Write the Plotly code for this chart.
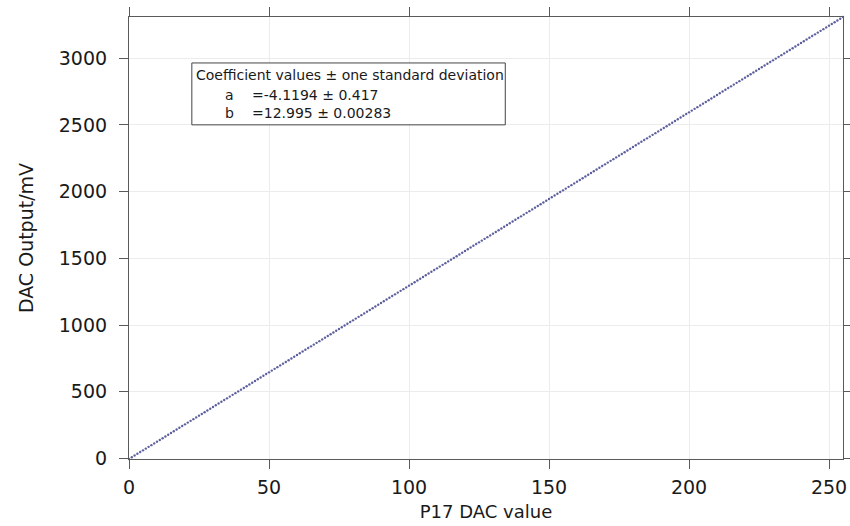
import plotly.graph_objects as go

# Linear fit of P17 DAC output voltage vs. DAC code
coef_a = -4.1194
coef_b = 12.995
coef_a_sd = 0.417
coef_b_sd = 0.00283

dac_codes = list(range(0, 256))
fit_mv = [coef_a + coef_b * c for c in dac_codes]

x_ticks = [0, 50, 100, 150, 200, 250]
y_ticks = [0, 500, 1000, 1500, 2000, 2500, 3000]

FONT = "DejaVu Sans"
INK = "#1a1a1a"

fig = go.Figure()
fig.add_trace(go.Scatter(
    x=dac_codes, y=fit_mv, mode="markers",
    marker=dict(size=2.4, color="#5c5f9c", line=dict(width=0)),
    showlegend=False, cliponaxis=False,
))

axis_common = dict(
    showline=True, linecolor="#5a5a5a", linewidth=1.2, mirror="ticks",
    ticks="outside", ticklen=9, tickwidth=1, tickcolor="#5a5a5a",
    showgrid=True, gridcolor="#ececec", gridwidth=1, zeroline=False,
    tickfont=dict(family=FONT, size=19, color=INK),
    automargin=False,
)

fig.update_xaxes(
    range=[0, 255], tickvals=x_ticks, ticklabelstandoff=2,
    title=dict(text="P17 DAC value", font=dict(family=FONT, size=18, color=INK), standoff=8),
    **axis_common,
)
fig.update_yaxes(
    range=[min(fit_mv), max(fit_mv)], tickvals=y_ticks, ticklabelstandoff=8,
    title=dict(text="DAC Output/mV", font=dict(family=FONT, size=19, color=INK), standoff=20),
    **axis_common,
)

# Coefficient box: frame plus one text row per line
fig.add_shape(
    type="rect", xref="paper", yref="paper",
    x0=0.088, x1=0.527, y0=0.756, y1=0.896,
    line=dict(color="#444444", width=1), fillcolor="white", layer="above",
)
box_font = dict(family=FONT, size=14, color=INK)
fig.add_annotation(
    xref="paper", yref="paper", x=0.091, y=0.869, xanchor="left", yanchor="middle",
    text="Coefficient values ± one standard deviation", showarrow=False, font=box_font,
)
rows = [("a", coef_a, coef_a_sd, 0.824), ("b", coef_b, coef_b_sd, 0.783)]
for name, val, sd, ypos in rows:
    fig.add_annotation(
        xref="paper", yref="paper", x=0.1317, y=ypos, xanchor="left", yanchor="middle",
        text=name, showarrow=False, font=box_font,
    )
    fig.add_annotation(
        xref="paper", yref="paper", x=0.1695, y=ypos, xanchor="left", yanchor="middle",
        text=f"={val} ± {sd}", showarrow=False, font=box_font,
    )

fig.update_layout(
    width=850, height=526,
    margin=dict(l=129, r=7, t=17, b=67),
    paper_bgcolor="white", plot_bgcolor="white",
)

fig.write_html("out.html")
